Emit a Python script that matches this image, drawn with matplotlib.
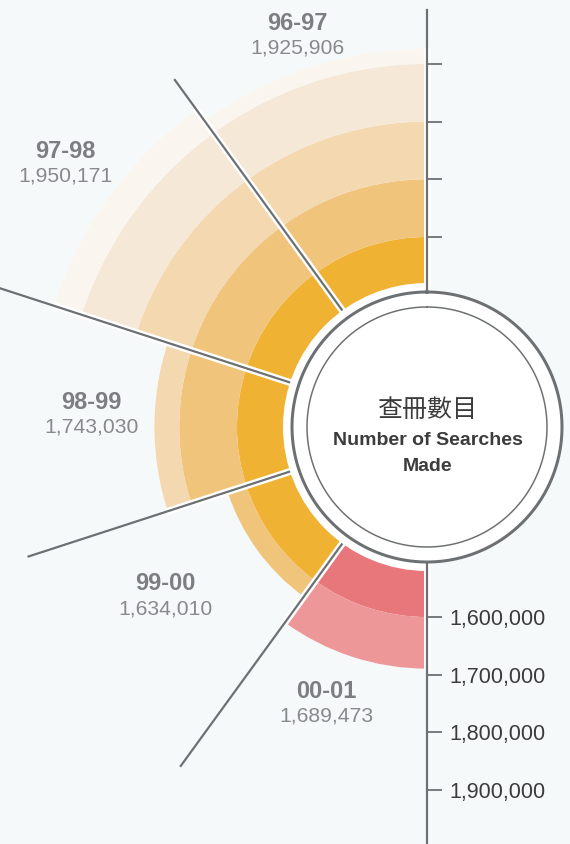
import numpy as np
import matplotlib

matplotlib.use("Agg")
import matplotlib.pyplot as plt
from matplotlib.ticker import FixedLocator, FuncFormatter

plt.rcParams["font.family"] = ["Liberation Sans", "Noto Sans CJK TC", "DejaVu Sans"]

# data
YEARS = ["96-97", "97-98", "98-99", "99-00", "00-01"]
SEARCHES = [1925906, 1950171, 1743030, 1634010, 1689473]
HIGHLIGHT = "00-01"
BAND_EDGES = [1500000, 1600000, 1700000, 1800000, 1900000, 2000000]
SCALE_TICKS = [1600000, 1700000, 1800000, 1900000]

# style
BG = "#F6F9F9"
GRAY = "#6D7072"
LABEL = "#7C7E81"
VALUE = "#87898C"
DARK = "#3C3C3C"
ORANGE_BANDS = ["#F0B232", "#F1C47C", "#F4D8AF", "#F5E8D6", "#FAF6EF"]
RED_BANDS = ["#E7777A", "#EE9799", "#F3B9BA", "#F7D6D6", "#FBEBEB"]

W, H = 570, 844
CX, CY = 427, 427
PX = 57.7 / 100000          # pixels per search
V0 = 1600000 - 190 / PX     # value at the centre
RAX = 470
PT = 72 / 100               # points per pixel


def val(r_px):
    return V0 + r_px / PX


fig = plt.figure(figsize=(W / 100, H / 100), dpi=100, facecolor=BG)

ax = fig.add_axes([(CX - RAX) / W, (H - CY - RAX) / H, 2 * RAX / W, 2 * RAX / H],
                  projection="polar")
ax.set_theta_zero_location("N")
ax.set_theta_direction(1)
ax.set_ylim(V0, val(RAX))
ax.set_axis_off()

step = np.pi / len(YEARS)
for i, (yr, v) in enumerate(zip(YEARS, SEARCHES)):
    cols = RED_BANDS if yr == HIGHLIGHT else ORANGE_BANDS
    th = (i + 0.5) * step
    for k in range(len(BAND_EDGES) - 1):
        lo, hi = BAND_EDGES[k], BAND_EDGES[k + 1]
        if v <= lo:
            break
        ax.bar(th, min(v, hi) - lo, width=step, bottom=lo, color=cols[k],
               linewidth=0, zorder=2)

# white gaps and dividers
for j in range(len(YEARS) + 1):
    th = j * step
    near = SEARCHES[max(j - 1, 0):j + 1]
    ax.plot([th, th], [BAND_EDGES[0], max(near) + 3000], color="white",
            lw=7 * PT, solid_capstyle="butt", zorder=3)

DIV_LEN = [430, 460, 420, 420]
for j in range(1, len(YEARS)):
    th = j * step
    ax.plot([th, th], [val(136), val(DIV_LEN[j - 1])], color=GRAY,
            lw=2.2 * PT, solid_capstyle="butt", zorder=4)

# centre disc: white halo on the bar side only
ax.bar(np.pi / 2, val(144) - V0, width=np.pi, bottom=V0, color="white",
       linewidth=0, zorder=5)
ax.bar(0, val(135) - V0, width=2 * np.pi, bottom=V0, color="white",
       linewidth=0, zorder=5)
t = np.linspace(0, 2 * np.pi, 500)
ax.plot(t, np.full_like(t, val(135)), color=GRAY, lw=3 * PT, zorder=6)
ax.plot(t, np.full_like(t, val(120)), color=GRAY, lw=1.5 * PT, zorder=6)

ax.annotate("查冊數目", xy=(0, V0), xytext=(1, 17), textcoords="offset pixels",
            ha="center", va="center", fontsize=18, color=DARK, zorder=7)
ax.annotate("Number of Searches", xy=(0, V0), xytext=(1, -14),
            textcoords="offset pixels", ha="center", va="center",
            fontsize=14, fontweight="bold", color=DARK, zorder=7)
ax.annotate("Made", xy=(0, V0), xytext=(1, -40), textcoords="offset pixels",
            ha="center", va="center", fontsize=14, fontweight="bold",
            color=DARK, zorder=7)

# year labels
LABEL_ANG = [18.4, 54, 88, 123, 160]
LABEL_R = [412, 447, 336, 312, 295]
for yr, v, a, r in zip(YEARS, SEARCHES, LABEL_ANG, LABEL_R):
    xy = (np.deg2rad(a), val(r))
    ax.annotate(yr, xy=xy, xytext=(0, 13), textcoords="offset pixels",
                ha="center", va="center", fontsize=17, fontweight="bold",
                color=LABEL)
    ax.annotate(f"{v:,}", xy=xy, xytext=(0, -12), textcoords="offset pixels",
                ha="center", va="center", fontsize=15.2, color=VALUE)

# vertical scale, above and below the disc
fmt = FuncFormatter(lambda x, _: f"{int(x):,}")
spans = [(10, CY - 136, False), (CY + 136, H, True)]
for top_px, bot_px, labelled in spans:
    sax = fig.add_axes([(CX - 20) / W, (H - bot_px) / H, 20 / W,
                        (bot_px - top_px) / H], zorder=3)
    sax.patch.set_alpha(0)
    for s in ("top", "left", "bottom"):
        sax.spines[s].set_visible(False)
    sax.spines["right"].set_color(GRAY)
    sax.spines["right"].set_linewidth(2.2 * PT)
    sax.set_xticks([])
    if labelled:
        sax.set_ylim(val(bot_px - CY), val(top_px - CY))
    else:
        sax.set_ylim(val(CY - bot_px), val(CY - top_px))
    sax.yaxis.tick_right()
    sax.yaxis.set_major_locator(FixedLocator(SCALE_TICKS))
    sax.yaxis.set_major_formatter(fmt)
    sax.tick_params(axis="y", direction="out", length=15 * PT, width=1.8 * PT,
                    color=GRAY, labelsize=15.5, labelcolor=DARK, pad=5,
                    labelright=labelled)

fig.savefig("out.png", dpi=100, facecolor=BG)
